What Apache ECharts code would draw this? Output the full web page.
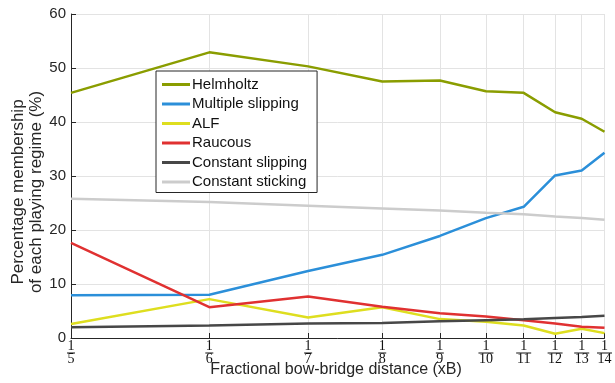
<!DOCTYPE html>
<html><head><meta charset="utf-8">
<script src="https://cdn.jsdelivr.net/npm/echarts@6/dist/echarts.min.js"></script>
<style>html,body{margin:0;padding:0;background:#fff}#c{width:615px;height:383px}</style>
</head><body><div id="c"></div>
<script>
const denominators = [5, 6, 7, 8, 9, 10, 11, 12, 13, 14];
const helmholtz = [45.4, 52.9, 50.3, 47.5, 47.7, 45.7, 45.4, 41.8, 40.6, 38.2];
const multipleSlipping = [7.9, 8.0, 12.4, 15.4, 18.9, 22.2, 24.3, 30.1, 31.0, 34.3];
const alf = [2.6, 7.2, 3.8, 5.7, 3.5, 3.0, 2.3, 0.8, 1.7, 0.9];
const raucous = [17.6, 5.7, 7.7, 5.8, 4.6, 4.0, 3.3, 2.7, 2.1, 1.9];
const constantSlipping = [2.0, 2.3, 2.7, 2.8, 3.1, 3.3, 3.45, 3.7, 3.9, 4.1];
const constantSticking = [25.8, 25.2, 24.5, 24.0, 23.6, 23.2, 22.9, 22.5, 22.2, 21.9];
const yTicks = [0, 10, 20, 30, 40, 50, 60];

const xVals = denominators.map(d => 1 / d);
const pairs = arr => arr.map((v, i) => [xVals[i], v]);

const seriesDefs = [
  ['Helmholtz', helmholtz, '#8a9d00'],
  ['Multiple slipping', multipleSlipping, '#2b8fd9'],
  ['ALF', alf, '#dede1f'],
  ['Raucous', raucous, '#e03131'],
  ['Constant slipping', constantSlipping, '#474747'],
  ['Constant sticking', constantSticking, '#cccccc']
];

const chart = echarts.init(document.getElementById('c'), null, {renderer: 'canvas'});
const sansFont = 'Liberation Sans, Arial, sans-serif';
const serifFont = 'Liberation Serif, DejaVu Serif, serif';
chart.setOption({
  animation: false,
  backgroundColor: '#fff',
  grid: {left: 71, right: 5, top: 14, bottom: 45, containLabel: false},
  legend: {
    orient: 'vertical', left: 156, top: 71,
    backgroundColor: '#fff', borderColor: '#262626', borderWidth: 1, borderRadius: 0,
    padding: [6, 10, 3, 6],
    itemWidth: 28, itemHeight: 3, itemGap: 4.5, icon: 'rect',
    textStyle: {fontFamily: sansFont, fontSize: 15, color: '#111', lineHeight: 15, padding: [0, 0, 0, -3]},
    data: seriesDefs.map(s => s[0])
  },
  xAxis: {
    type: 'value', inverse: true, min: 1 / 14, max: 1 / 5,
    axisLine: {show: true, onZero: false, lineStyle: {color: '#262626', width: 1}},
    axisTick: {show: true, inside: true, length: 5, lineStyle: {color: '#262626'}, customValues: xVals},
    splitLine: {show: true, lineStyle: {color: '#e3e3e3', width: 1}},
    axisLabel: {
      customValues: xVals,
      margin: 3,
      formatter: function (v) {
        const d = Math.round(1 / v);
        return '{n|1}\n{' + (d >= 10 ? 'b2' : 'b1') + '|}\n{d|' + d + '}';
      },
      rich: {
        n: {fontFamily: serifFont, fontSize: 14, lineHeight: 11, color: '#111', align: 'center'},
        d: {fontFamily: serifFont, fontSize: 14, lineHeight: 11, color: '#111', align: 'center'},
        b1: {width: 8, height: 1, lineHeight: 2, backgroundColor: '#111', align: 'center'},
        b2: {width: 15, height: 1, lineHeight: 2, backgroundColor: '#111', align: 'center'}
      }
    }
  },
  yAxis: {
    type: 'value', min: 0, max: 60, interval: 10,
    axisLine: {show: true, lineStyle: {color: '#262626', width: 1}},
    axisTick: {show: true, inside: true, length: 5, lineStyle: {color: '#262626'}},
    splitLine: {show: true, lineStyle: {color: '#e3e3e3', width: 1}},
    axisLabel: {fontFamily: sansFont, fontSize: 15, color: '#262626', margin: 5,
      formatter: v => yTicks.includes(v) ? String(v) : ''}
  },
  graphic: [
    {type: 'text', x: 27, y: 192, rotation: Math.PI / 2,
     style: {text: 'Percentage membership\nof each playing regime (%)', font: '17px Liberation Sans, Arial, sans-serif',
       fill: '#262626', textAlign: 'center', textVerticalAlign: 'middle', lineHeight: 18}},
    {type: 'text', x: 336, y: 370,
     style: {text: 'Fractional bow-bridge distance (xB)', font: '16px Liberation Sans, Arial, sans-serif',
       fill: '#262626', textAlign: 'center', textVerticalAlign: 'middle'}}
  ],
  series: seriesDefs.map(s => ({
    name: s[0], type: 'line', data: pairs(s[1]), symbol: 'none', showSymbol: false,
    lineStyle: {color: s[2], width: 2.5}, itemStyle: {color: s[2]}, z: 2
  }))
});
</script></body></html>
